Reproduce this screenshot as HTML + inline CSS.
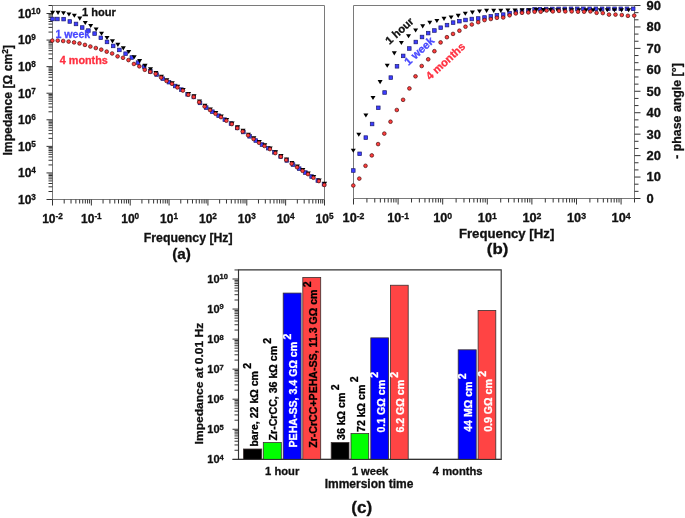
<!DOCTYPE html>
<html><head><meta charset="utf-8"><style>
html,body{margin:0;padding:0;background:#fff;}
svg{display:block;will-change:transform;filter:blur(0.3px);}
</style></head><body>
<svg width="685" height="518" viewBox="0 0 685 518">
<rect width="685" height="518" fill="#fff"/>
<path d="M52.5 5.5H324.5V199.5H52.5Z" fill="none" stroke="#7a7a7a" stroke-width="1"/>
<line x1="52.50" y1="199.50" x2="52.50" y2="205.50" stroke="#333" stroke-width="1"/>
<line x1="64.20" y1="199.50" x2="64.20" y2="203.50" stroke="#333" stroke-width="1"/>
<line x1="71.04" y1="199.50" x2="71.04" y2="203.50" stroke="#333" stroke-width="1"/>
<line x1="75.89" y1="199.50" x2="75.89" y2="203.50" stroke="#333" stroke-width="1"/>
<line x1="79.66" y1="199.50" x2="79.66" y2="203.50" stroke="#333" stroke-width="1"/>
<line x1="82.74" y1="199.50" x2="82.74" y2="203.50" stroke="#333" stroke-width="1"/>
<line x1="85.34" y1="199.50" x2="85.34" y2="203.50" stroke="#333" stroke-width="1"/>
<line x1="87.59" y1="199.50" x2="87.59" y2="203.50" stroke="#333" stroke-width="1"/>
<line x1="89.58" y1="199.50" x2="89.58" y2="203.50" stroke="#333" stroke-width="1"/>
<line x1="91.36" y1="199.50" x2="91.36" y2="205.50" stroke="#333" stroke-width="1"/>
<line x1="103.05" y1="199.50" x2="103.05" y2="203.50" stroke="#333" stroke-width="1"/>
<line x1="109.90" y1="199.50" x2="109.90" y2="203.50" stroke="#333" stroke-width="1"/>
<line x1="114.75" y1="199.50" x2="114.75" y2="203.50" stroke="#333" stroke-width="1"/>
<line x1="118.52" y1="199.50" x2="118.52" y2="203.50" stroke="#333" stroke-width="1"/>
<line x1="121.59" y1="199.50" x2="121.59" y2="203.50" stroke="#333" stroke-width="1"/>
<line x1="124.20" y1="199.50" x2="124.20" y2="203.50" stroke="#333" stroke-width="1"/>
<line x1="126.45" y1="199.50" x2="126.45" y2="203.50" stroke="#333" stroke-width="1"/>
<line x1="128.44" y1="199.50" x2="128.44" y2="203.50" stroke="#333" stroke-width="1"/>
<line x1="130.21" y1="199.50" x2="130.21" y2="205.50" stroke="#333" stroke-width="1"/>
<line x1="141.91" y1="199.50" x2="141.91" y2="203.50" stroke="#333" stroke-width="1"/>
<line x1="148.75" y1="199.50" x2="148.75" y2="203.50" stroke="#333" stroke-width="1"/>
<line x1="153.61" y1="199.50" x2="153.61" y2="203.50" stroke="#333" stroke-width="1"/>
<line x1="157.37" y1="199.50" x2="157.37" y2="203.50" stroke="#333" stroke-width="1"/>
<line x1="160.45" y1="199.50" x2="160.45" y2="203.50" stroke="#333" stroke-width="1"/>
<line x1="163.05" y1="199.50" x2="163.05" y2="203.50" stroke="#333" stroke-width="1"/>
<line x1="165.31" y1="199.50" x2="165.31" y2="203.50" stroke="#333" stroke-width="1"/>
<line x1="167.29" y1="199.50" x2="167.29" y2="203.50" stroke="#333" stroke-width="1"/>
<line x1="169.07" y1="199.50" x2="169.07" y2="205.50" stroke="#333" stroke-width="1"/>
<line x1="180.77" y1="199.50" x2="180.77" y2="203.50" stroke="#333" stroke-width="1"/>
<line x1="187.61" y1="199.50" x2="187.61" y2="203.50" stroke="#333" stroke-width="1"/>
<line x1="192.47" y1="199.50" x2="192.47" y2="203.50" stroke="#333" stroke-width="1"/>
<line x1="196.23" y1="199.50" x2="196.23" y2="203.50" stroke="#333" stroke-width="1"/>
<line x1="199.31" y1="199.50" x2="199.31" y2="203.50" stroke="#333" stroke-width="1"/>
<line x1="201.91" y1="199.50" x2="201.91" y2="203.50" stroke="#333" stroke-width="1"/>
<line x1="204.16" y1="199.50" x2="204.16" y2="203.50" stroke="#333" stroke-width="1"/>
<line x1="206.15" y1="199.50" x2="206.15" y2="203.50" stroke="#333" stroke-width="1"/>
<line x1="207.93" y1="199.50" x2="207.93" y2="205.50" stroke="#333" stroke-width="1"/>
<line x1="219.63" y1="199.50" x2="219.63" y2="203.50" stroke="#333" stroke-width="1"/>
<line x1="226.47" y1="199.50" x2="226.47" y2="203.50" stroke="#333" stroke-width="1"/>
<line x1="231.32" y1="199.50" x2="231.32" y2="203.50" stroke="#333" stroke-width="1"/>
<line x1="235.09" y1="199.50" x2="235.09" y2="203.50" stroke="#333" stroke-width="1"/>
<line x1="238.17" y1="199.50" x2="238.17" y2="203.50" stroke="#333" stroke-width="1"/>
<line x1="240.77" y1="199.50" x2="240.77" y2="203.50" stroke="#333" stroke-width="1"/>
<line x1="243.02" y1="199.50" x2="243.02" y2="203.50" stroke="#333" stroke-width="1"/>
<line x1="245.01" y1="199.50" x2="245.01" y2="203.50" stroke="#333" stroke-width="1"/>
<line x1="246.79" y1="199.50" x2="246.79" y2="205.50" stroke="#333" stroke-width="1"/>
<line x1="258.48" y1="199.50" x2="258.48" y2="203.50" stroke="#333" stroke-width="1"/>
<line x1="265.33" y1="199.50" x2="265.33" y2="203.50" stroke="#333" stroke-width="1"/>
<line x1="270.18" y1="199.50" x2="270.18" y2="203.50" stroke="#333" stroke-width="1"/>
<line x1="273.95" y1="199.50" x2="273.95" y2="203.50" stroke="#333" stroke-width="1"/>
<line x1="277.02" y1="199.50" x2="277.02" y2="203.50" stroke="#333" stroke-width="1"/>
<line x1="279.62" y1="199.50" x2="279.62" y2="203.50" stroke="#333" stroke-width="1"/>
<line x1="281.88" y1="199.50" x2="281.88" y2="203.50" stroke="#333" stroke-width="1"/>
<line x1="283.86" y1="199.50" x2="283.86" y2="203.50" stroke="#333" stroke-width="1"/>
<line x1="285.64" y1="199.50" x2="285.64" y2="205.50" stroke="#333" stroke-width="1"/>
<line x1="297.34" y1="199.50" x2="297.34" y2="203.50" stroke="#333" stroke-width="1"/>
<line x1="304.18" y1="199.50" x2="304.18" y2="203.50" stroke="#333" stroke-width="1"/>
<line x1="309.04" y1="199.50" x2="309.04" y2="203.50" stroke="#333" stroke-width="1"/>
<line x1="312.80" y1="199.50" x2="312.80" y2="203.50" stroke="#333" stroke-width="1"/>
<line x1="315.88" y1="199.50" x2="315.88" y2="203.50" stroke="#333" stroke-width="1"/>
<line x1="318.48" y1="199.50" x2="318.48" y2="203.50" stroke="#333" stroke-width="1"/>
<line x1="320.73" y1="199.50" x2="320.73" y2="203.50" stroke="#333" stroke-width="1"/>
<line x1="322.72" y1="199.50" x2="322.72" y2="203.50" stroke="#333" stroke-width="1"/>
<line x1="324.50" y1="199.50" x2="324.50" y2="205.50" stroke="#333" stroke-width="1"/>
<line x1="46.50" y1="199.50" x2="52.50" y2="199.50" stroke="#333" stroke-width="1"/>
<line x1="48.50" y1="191.50" x2="52.50" y2="191.50" stroke="#333" stroke-width="1"/>
<line x1="48.50" y1="186.82" x2="52.50" y2="186.82" stroke="#333" stroke-width="1"/>
<line x1="48.50" y1="183.50" x2="52.50" y2="183.50" stroke="#333" stroke-width="1"/>
<line x1="48.50" y1="180.93" x2="52.50" y2="180.93" stroke="#333" stroke-width="1"/>
<line x1="48.50" y1="178.82" x2="52.50" y2="178.82" stroke="#333" stroke-width="1"/>
<line x1="48.50" y1="177.05" x2="52.50" y2="177.05" stroke="#333" stroke-width="1"/>
<line x1="48.50" y1="175.50" x2="52.50" y2="175.50" stroke="#333" stroke-width="1"/>
<line x1="48.50" y1="174.15" x2="52.50" y2="174.15" stroke="#333" stroke-width="1"/>
<line x1="46.50" y1="172.93" x2="52.50" y2="172.93" stroke="#333" stroke-width="1"/>
<line x1="48.50" y1="164.93" x2="52.50" y2="164.93" stroke="#333" stroke-width="1"/>
<line x1="48.50" y1="160.25" x2="52.50" y2="160.25" stroke="#333" stroke-width="1"/>
<line x1="48.50" y1="156.93" x2="52.50" y2="156.93" stroke="#333" stroke-width="1"/>
<line x1="48.50" y1="154.36" x2="52.50" y2="154.36" stroke="#333" stroke-width="1"/>
<line x1="48.50" y1="152.25" x2="52.50" y2="152.25" stroke="#333" stroke-width="1"/>
<line x1="48.50" y1="150.48" x2="52.50" y2="150.48" stroke="#333" stroke-width="1"/>
<line x1="48.50" y1="148.93" x2="52.50" y2="148.93" stroke="#333" stroke-width="1"/>
<line x1="48.50" y1="147.58" x2="52.50" y2="147.58" stroke="#333" stroke-width="1"/>
<line x1="46.50" y1="146.36" x2="52.50" y2="146.36" stroke="#333" stroke-width="1"/>
<line x1="48.50" y1="138.36" x2="52.50" y2="138.36" stroke="#333" stroke-width="1"/>
<line x1="48.50" y1="133.68" x2="52.50" y2="133.68" stroke="#333" stroke-width="1"/>
<line x1="48.50" y1="130.36" x2="52.50" y2="130.36" stroke="#333" stroke-width="1"/>
<line x1="48.50" y1="127.79" x2="52.50" y2="127.79" stroke="#333" stroke-width="1"/>
<line x1="48.50" y1="125.68" x2="52.50" y2="125.68" stroke="#333" stroke-width="1"/>
<line x1="48.50" y1="123.91" x2="52.50" y2="123.91" stroke="#333" stroke-width="1"/>
<line x1="48.50" y1="122.36" x2="52.50" y2="122.36" stroke="#333" stroke-width="1"/>
<line x1="48.50" y1="121.01" x2="52.50" y2="121.01" stroke="#333" stroke-width="1"/>
<line x1="46.50" y1="119.79" x2="52.50" y2="119.79" stroke="#333" stroke-width="1"/>
<line x1="48.50" y1="111.79" x2="52.50" y2="111.79" stroke="#333" stroke-width="1"/>
<line x1="48.50" y1="107.11" x2="52.50" y2="107.11" stroke="#333" stroke-width="1"/>
<line x1="48.50" y1="103.79" x2="52.50" y2="103.79" stroke="#333" stroke-width="1"/>
<line x1="48.50" y1="101.22" x2="52.50" y2="101.22" stroke="#333" stroke-width="1"/>
<line x1="48.50" y1="99.11" x2="52.50" y2="99.11" stroke="#333" stroke-width="1"/>
<line x1="48.50" y1="97.34" x2="52.50" y2="97.34" stroke="#333" stroke-width="1"/>
<line x1="48.50" y1="95.79" x2="52.50" y2="95.79" stroke="#333" stroke-width="1"/>
<line x1="48.50" y1="94.44" x2="52.50" y2="94.44" stroke="#333" stroke-width="1"/>
<line x1="46.50" y1="93.22" x2="52.50" y2="93.22" stroke="#333" stroke-width="1"/>
<line x1="48.50" y1="85.22" x2="52.50" y2="85.22" stroke="#333" stroke-width="1"/>
<line x1="48.50" y1="80.54" x2="52.50" y2="80.54" stroke="#333" stroke-width="1"/>
<line x1="48.50" y1="77.22" x2="52.50" y2="77.22" stroke="#333" stroke-width="1"/>
<line x1="48.50" y1="74.65" x2="52.50" y2="74.65" stroke="#333" stroke-width="1"/>
<line x1="48.50" y1="72.54" x2="52.50" y2="72.54" stroke="#333" stroke-width="1"/>
<line x1="48.50" y1="70.77" x2="52.50" y2="70.77" stroke="#333" stroke-width="1"/>
<line x1="48.50" y1="69.22" x2="52.50" y2="69.22" stroke="#333" stroke-width="1"/>
<line x1="48.50" y1="67.87" x2="52.50" y2="67.87" stroke="#333" stroke-width="1"/>
<line x1="46.50" y1="66.65" x2="52.50" y2="66.65" stroke="#333" stroke-width="1"/>
<line x1="48.50" y1="58.65" x2="52.50" y2="58.65" stroke="#333" stroke-width="1"/>
<line x1="48.50" y1="53.97" x2="52.50" y2="53.97" stroke="#333" stroke-width="1"/>
<line x1="48.50" y1="50.65" x2="52.50" y2="50.65" stroke="#333" stroke-width="1"/>
<line x1="48.50" y1="48.08" x2="52.50" y2="48.08" stroke="#333" stroke-width="1"/>
<line x1="48.50" y1="45.97" x2="52.50" y2="45.97" stroke="#333" stroke-width="1"/>
<line x1="48.50" y1="44.20" x2="52.50" y2="44.20" stroke="#333" stroke-width="1"/>
<line x1="48.50" y1="42.65" x2="52.50" y2="42.65" stroke="#333" stroke-width="1"/>
<line x1="48.50" y1="41.30" x2="52.50" y2="41.30" stroke="#333" stroke-width="1"/>
<line x1="46.50" y1="40.08" x2="52.50" y2="40.08" stroke="#333" stroke-width="1"/>
<line x1="48.50" y1="32.08" x2="52.50" y2="32.08" stroke="#333" stroke-width="1"/>
<line x1="48.50" y1="27.40" x2="52.50" y2="27.40" stroke="#333" stroke-width="1"/>
<line x1="48.50" y1="24.08" x2="52.50" y2="24.08" stroke="#333" stroke-width="1"/>
<line x1="48.50" y1="21.51" x2="52.50" y2="21.51" stroke="#333" stroke-width="1"/>
<line x1="48.50" y1="19.40" x2="52.50" y2="19.40" stroke="#333" stroke-width="1"/>
<line x1="48.50" y1="17.63" x2="52.50" y2="17.63" stroke="#333" stroke-width="1"/>
<line x1="48.50" y1="16.08" x2="52.50" y2="16.08" stroke="#333" stroke-width="1"/>
<line x1="48.50" y1="14.73" x2="52.50" y2="14.73" stroke="#333" stroke-width="1"/>
<line x1="46.50" y1="13.51" x2="52.50" y2="13.51" stroke="#333" stroke-width="1"/>
<line x1="48.50" y1="5.51" x2="52.50" y2="5.51" stroke="#333" stroke-width="1"/>
<text x="52.50" y="222.80" font-family="'Liberation Sans', sans-serif" font-weight="bold" font-size="12" fill="#111" text-anchor="middle" stroke="#111" stroke-width="0.3">10<tspan font-size="8.2" dy="-3.9">-2</tspan></text>
<text x="91.36" y="222.80" font-family="'Liberation Sans', sans-serif" font-weight="bold" font-size="12" fill="#111" text-anchor="middle" stroke="#111" stroke-width="0.3">10<tspan font-size="8.2" dy="-3.9">-1</tspan></text>
<text x="130.21" y="222.80" font-family="'Liberation Sans', sans-serif" font-weight="bold" font-size="12" fill="#111" text-anchor="middle" stroke="#111" stroke-width="0.3">10<tspan font-size="8.2" dy="-3.9">0</tspan></text>
<text x="169.07" y="222.80" font-family="'Liberation Sans', sans-serif" font-weight="bold" font-size="12" fill="#111" text-anchor="middle" stroke="#111" stroke-width="0.3">10<tspan font-size="8.2" dy="-3.9">1</tspan></text>
<text x="207.93" y="222.80" font-family="'Liberation Sans', sans-serif" font-weight="bold" font-size="12" fill="#111" text-anchor="middle" stroke="#111" stroke-width="0.3">10<tspan font-size="8.2" dy="-3.9">2</tspan></text>
<text x="246.79" y="222.80" font-family="'Liberation Sans', sans-serif" font-weight="bold" font-size="12" fill="#111" text-anchor="middle" stroke="#111" stroke-width="0.3">10<tspan font-size="8.2" dy="-3.9">3</tspan></text>
<text x="285.64" y="222.80" font-family="'Liberation Sans', sans-serif" font-weight="bold" font-size="12" fill="#111" text-anchor="middle" stroke="#111" stroke-width="0.3">10<tspan font-size="8.2" dy="-3.9">4</tspan></text>
<text x="324.50" y="222.80" font-family="'Liberation Sans', sans-serif" font-weight="bold" font-size="12" fill="#111" text-anchor="middle" stroke="#111" stroke-width="0.3">10<tspan font-size="8.2" dy="-3.9">5</tspan></text>
<text x="18.00" y="203.80" font-family="'Liberation Sans', sans-serif" font-weight="bold" font-size="12" fill="#111" text-anchor="start" stroke="#111" stroke-width="0.3">10<tspan font-size="8.2" dy="-3.9">3</tspan></text>
<text x="18.00" y="177.23" font-family="'Liberation Sans', sans-serif" font-weight="bold" font-size="12" fill="#111" text-anchor="start" stroke="#111" stroke-width="0.3">10<tspan font-size="8.2" dy="-3.9">4</tspan></text>
<text x="18.00" y="150.66" font-family="'Liberation Sans', sans-serif" font-weight="bold" font-size="12" fill="#111" text-anchor="start" stroke="#111" stroke-width="0.3">10<tspan font-size="8.2" dy="-3.9">5</tspan></text>
<text x="18.00" y="124.09" font-family="'Liberation Sans', sans-serif" font-weight="bold" font-size="12" fill="#111" text-anchor="start" stroke="#111" stroke-width="0.3">10<tspan font-size="8.2" dy="-3.9">6</tspan></text>
<text x="18.00" y="97.52" font-family="'Liberation Sans', sans-serif" font-weight="bold" font-size="12" fill="#111" text-anchor="start" stroke="#111" stroke-width="0.3">10<tspan font-size="8.2" dy="-3.9">7</tspan></text>
<text x="18.00" y="70.95" font-family="'Liberation Sans', sans-serif" font-weight="bold" font-size="12" fill="#111" text-anchor="start" stroke="#111" stroke-width="0.3">10<tspan font-size="8.2" dy="-3.9">8</tspan></text>
<text x="18.00" y="44.38" font-family="'Liberation Sans', sans-serif" font-weight="bold" font-size="12" fill="#111" text-anchor="start" stroke="#111" stroke-width="0.3">10<tspan font-size="8.2" dy="-3.9">9</tspan></text>
<text x="18.00" y="17.81" font-family="'Liberation Sans', sans-serif" font-weight="bold" font-size="12" fill="#111" text-anchor="start" stroke="#111" stroke-width="0.3">10<tspan font-size="8.2" dy="-3.9">10</tspan></text>
<path d="M353.5 5.5H634.5V198.5H353.5Z" fill="none" stroke="#7a7a7a" stroke-width="1"/>
<line x1="353.50" y1="198.50" x2="353.50" y2="204.50" stroke="#333" stroke-width="1"/>
<line x1="366.92" y1="198.50" x2="366.92" y2="202.50" stroke="#333" stroke-width="1"/>
<line x1="374.78" y1="198.50" x2="374.78" y2="202.50" stroke="#333" stroke-width="1"/>
<line x1="380.35" y1="198.50" x2="380.35" y2="202.50" stroke="#333" stroke-width="1"/>
<line x1="384.67" y1="198.50" x2="384.67" y2="202.50" stroke="#333" stroke-width="1"/>
<line x1="388.20" y1="198.50" x2="388.20" y2="202.50" stroke="#333" stroke-width="1"/>
<line x1="391.19" y1="198.50" x2="391.19" y2="202.50" stroke="#333" stroke-width="1"/>
<line x1="393.77" y1="198.50" x2="393.77" y2="202.50" stroke="#333" stroke-width="1"/>
<line x1="396.06" y1="198.50" x2="396.06" y2="202.50" stroke="#333" stroke-width="1"/>
<line x1="398.10" y1="198.50" x2="398.10" y2="204.50" stroke="#333" stroke-width="1"/>
<line x1="411.52" y1="198.50" x2="411.52" y2="202.50" stroke="#333" stroke-width="1"/>
<line x1="419.37" y1="198.50" x2="419.37" y2="202.50" stroke="#333" stroke-width="1"/>
<line x1="424.95" y1="198.50" x2="424.95" y2="202.50" stroke="#333" stroke-width="1"/>
<line x1="429.27" y1="198.50" x2="429.27" y2="202.50" stroke="#333" stroke-width="1"/>
<line x1="432.80" y1="198.50" x2="432.80" y2="202.50" stroke="#333" stroke-width="1"/>
<line x1="435.78" y1="198.50" x2="435.78" y2="202.50" stroke="#333" stroke-width="1"/>
<line x1="438.37" y1="198.50" x2="438.37" y2="202.50" stroke="#333" stroke-width="1"/>
<line x1="440.65" y1="198.50" x2="440.65" y2="202.50" stroke="#333" stroke-width="1"/>
<line x1="442.69" y1="198.50" x2="442.69" y2="204.50" stroke="#333" stroke-width="1"/>
<line x1="456.12" y1="198.50" x2="456.12" y2="202.50" stroke="#333" stroke-width="1"/>
<line x1="463.97" y1="198.50" x2="463.97" y2="202.50" stroke="#333" stroke-width="1"/>
<line x1="469.54" y1="198.50" x2="469.54" y2="202.50" stroke="#333" stroke-width="1"/>
<line x1="473.86" y1="198.50" x2="473.86" y2="202.50" stroke="#333" stroke-width="1"/>
<line x1="477.39" y1="198.50" x2="477.39" y2="202.50" stroke="#333" stroke-width="1"/>
<line x1="480.38" y1="198.50" x2="480.38" y2="202.50" stroke="#333" stroke-width="1"/>
<line x1="482.97" y1="198.50" x2="482.97" y2="202.50" stroke="#333" stroke-width="1"/>
<line x1="485.25" y1="198.50" x2="485.25" y2="202.50" stroke="#333" stroke-width="1"/>
<line x1="487.29" y1="198.50" x2="487.29" y2="204.50" stroke="#333" stroke-width="1"/>
<line x1="500.71" y1="198.50" x2="500.71" y2="202.50" stroke="#333" stroke-width="1"/>
<line x1="508.57" y1="198.50" x2="508.57" y2="202.50" stroke="#333" stroke-width="1"/>
<line x1="514.14" y1="198.50" x2="514.14" y2="202.50" stroke="#333" stroke-width="1"/>
<line x1="518.46" y1="198.50" x2="518.46" y2="202.50" stroke="#333" stroke-width="1"/>
<line x1="521.99" y1="198.50" x2="521.99" y2="202.50" stroke="#333" stroke-width="1"/>
<line x1="524.98" y1="198.50" x2="524.98" y2="202.50" stroke="#333" stroke-width="1"/>
<line x1="527.56" y1="198.50" x2="527.56" y2="202.50" stroke="#333" stroke-width="1"/>
<line x1="529.84" y1="198.50" x2="529.84" y2="202.50" stroke="#333" stroke-width="1"/>
<line x1="531.88" y1="198.50" x2="531.88" y2="204.50" stroke="#333" stroke-width="1"/>
<line x1="545.31" y1="198.50" x2="545.31" y2="202.50" stroke="#333" stroke-width="1"/>
<line x1="553.16" y1="198.50" x2="553.16" y2="202.50" stroke="#333" stroke-width="1"/>
<line x1="558.73" y1="198.50" x2="558.73" y2="202.50" stroke="#333" stroke-width="1"/>
<line x1="563.05" y1="198.50" x2="563.05" y2="202.50" stroke="#333" stroke-width="1"/>
<line x1="566.59" y1="198.50" x2="566.59" y2="202.50" stroke="#333" stroke-width="1"/>
<line x1="569.57" y1="198.50" x2="569.57" y2="202.50" stroke="#333" stroke-width="1"/>
<line x1="572.16" y1="198.50" x2="572.16" y2="202.50" stroke="#333" stroke-width="1"/>
<line x1="574.44" y1="198.50" x2="574.44" y2="202.50" stroke="#333" stroke-width="1"/>
<line x1="576.48" y1="198.50" x2="576.48" y2="204.50" stroke="#333" stroke-width="1"/>
<line x1="589.90" y1="198.50" x2="589.90" y2="202.50" stroke="#333" stroke-width="1"/>
<line x1="597.76" y1="198.50" x2="597.76" y2="202.50" stroke="#333" stroke-width="1"/>
<line x1="603.33" y1="198.50" x2="603.33" y2="202.50" stroke="#333" stroke-width="1"/>
<line x1="607.65" y1="198.50" x2="607.65" y2="202.50" stroke="#333" stroke-width="1"/>
<line x1="611.18" y1="198.50" x2="611.18" y2="202.50" stroke="#333" stroke-width="1"/>
<line x1="614.17" y1="198.50" x2="614.17" y2="202.50" stroke="#333" stroke-width="1"/>
<line x1="616.75" y1="198.50" x2="616.75" y2="202.50" stroke="#333" stroke-width="1"/>
<line x1="619.03" y1="198.50" x2="619.03" y2="202.50" stroke="#333" stroke-width="1"/>
<line x1="621.08" y1="198.50" x2="621.08" y2="204.50" stroke="#333" stroke-width="1"/>
<line x1="634.50" y1="198.50" x2="634.50" y2="202.50" stroke="#333" stroke-width="1"/>
<line x1="634.50" y1="198.50" x2="640.50" y2="198.50" stroke="#333" stroke-width="1"/>
<line x1="634.50" y1="191.35" x2="638.50" y2="191.35" stroke="#333" stroke-width="1"/>
<line x1="634.50" y1="184.20" x2="638.50" y2="184.20" stroke="#333" stroke-width="1"/>
<line x1="634.50" y1="177.06" x2="640.50" y2="177.06" stroke="#333" stroke-width="1"/>
<line x1="634.50" y1="169.91" x2="638.50" y2="169.91" stroke="#333" stroke-width="1"/>
<line x1="634.50" y1="162.76" x2="638.50" y2="162.76" stroke="#333" stroke-width="1"/>
<line x1="634.50" y1="155.61" x2="640.50" y2="155.61" stroke="#333" stroke-width="1"/>
<line x1="634.50" y1="148.46" x2="638.50" y2="148.46" stroke="#333" stroke-width="1"/>
<line x1="634.50" y1="141.31" x2="638.50" y2="141.31" stroke="#333" stroke-width="1"/>
<line x1="634.50" y1="134.17" x2="640.50" y2="134.17" stroke="#333" stroke-width="1"/>
<line x1="634.50" y1="127.02" x2="638.50" y2="127.02" stroke="#333" stroke-width="1"/>
<line x1="634.50" y1="119.87" x2="638.50" y2="119.87" stroke="#333" stroke-width="1"/>
<line x1="634.50" y1="112.72" x2="640.50" y2="112.72" stroke="#333" stroke-width="1"/>
<line x1="634.50" y1="105.57" x2="638.50" y2="105.57" stroke="#333" stroke-width="1"/>
<line x1="634.50" y1="98.43" x2="638.50" y2="98.43" stroke="#333" stroke-width="1"/>
<line x1="634.50" y1="91.28" x2="640.50" y2="91.28" stroke="#333" stroke-width="1"/>
<line x1="634.50" y1="84.13" x2="638.50" y2="84.13" stroke="#333" stroke-width="1"/>
<line x1="634.50" y1="76.98" x2="638.50" y2="76.98" stroke="#333" stroke-width="1"/>
<line x1="634.50" y1="69.83" x2="640.50" y2="69.83" stroke="#333" stroke-width="1"/>
<line x1="634.50" y1="62.69" x2="638.50" y2="62.69" stroke="#333" stroke-width="1"/>
<line x1="634.50" y1="55.54" x2="638.50" y2="55.54" stroke="#333" stroke-width="1"/>
<line x1="634.50" y1="48.39" x2="640.50" y2="48.39" stroke="#333" stroke-width="1"/>
<line x1="634.50" y1="41.24" x2="638.50" y2="41.24" stroke="#333" stroke-width="1"/>
<line x1="634.50" y1="34.09" x2="638.50" y2="34.09" stroke="#333" stroke-width="1"/>
<line x1="634.50" y1="26.94" x2="640.50" y2="26.94" stroke="#333" stroke-width="1"/>
<line x1="634.50" y1="19.80" x2="638.50" y2="19.80" stroke="#333" stroke-width="1"/>
<line x1="634.50" y1="12.65" x2="638.50" y2="12.65" stroke="#333" stroke-width="1"/>
<line x1="634.50" y1="5.50" x2="640.50" y2="5.50" stroke="#333" stroke-width="1"/>
<g transform="translate(353.50,0) scale(1.06,1)">
<text x="0.00" y="222.50" font-family="'Liberation Sans', sans-serif" font-weight="bold" font-size="12" fill="#111" text-anchor="middle" stroke="#111" stroke-width="0.3">10<tspan font-size="8.2" dy="-3.9">-2</tspan></text>
</g>
<g transform="translate(398.10,0) scale(1.06,1)">
<text x="0.00" y="222.50" font-family="'Liberation Sans', sans-serif" font-weight="bold" font-size="12" fill="#111" text-anchor="middle" stroke="#111" stroke-width="0.3">10<tspan font-size="8.2" dy="-3.9">-1</tspan></text>
</g>
<g transform="translate(442.69,0) scale(1.06,1)">
<text x="0.00" y="222.50" font-family="'Liberation Sans', sans-serif" font-weight="bold" font-size="12" fill="#111" text-anchor="middle" stroke="#111" stroke-width="0.3">10<tspan font-size="8.2" dy="-3.9">0</tspan></text>
</g>
<g transform="translate(487.29,0) scale(1.06,1)">
<text x="0.00" y="222.50" font-family="'Liberation Sans', sans-serif" font-weight="bold" font-size="12" fill="#111" text-anchor="middle" stroke="#111" stroke-width="0.3">10<tspan font-size="8.2" dy="-3.9">1</tspan></text>
</g>
<g transform="translate(531.88,0) scale(1.06,1)">
<text x="0.00" y="222.50" font-family="'Liberation Sans', sans-serif" font-weight="bold" font-size="12" fill="#111" text-anchor="middle" stroke="#111" stroke-width="0.3">10<tspan font-size="8.2" dy="-3.9">2</tspan></text>
</g>
<g transform="translate(576.48,0) scale(1.06,1)">
<text x="0.00" y="222.50" font-family="'Liberation Sans', sans-serif" font-weight="bold" font-size="12" fill="#111" text-anchor="middle" stroke="#111" stroke-width="0.3">10<tspan font-size="8.2" dy="-3.9">3</tspan></text>
</g>
<g transform="translate(621.08,0) scale(1.06,1)">
<text x="0.00" y="222.50" font-family="'Liberation Sans', sans-serif" font-weight="bold" font-size="12" fill="#111" text-anchor="middle" stroke="#111" stroke-width="0.3">10<tspan font-size="8.2" dy="-3.9">4</tspan></text>
</g>
<text transform="translate(646.6,202.90) scale(1.08,1)" font-family="'Liberation Sans', sans-serif" font-weight="bold" font-size="12" fill="#111" stroke="#111" stroke-width="0.3">0</text>
<text transform="translate(646.6,181.46) scale(1.08,1)" font-family="'Liberation Sans', sans-serif" font-weight="bold" font-size="12" fill="#111" stroke="#111" stroke-width="0.3">10</text>
<text transform="translate(646.6,160.01) scale(1.08,1)" font-family="'Liberation Sans', sans-serif" font-weight="bold" font-size="12" fill="#111" stroke="#111" stroke-width="0.3">20</text>
<text transform="translate(646.6,138.57) scale(1.08,1)" font-family="'Liberation Sans', sans-serif" font-weight="bold" font-size="12" fill="#111" stroke="#111" stroke-width="0.3">30</text>
<text transform="translate(646.6,117.12) scale(1.08,1)" font-family="'Liberation Sans', sans-serif" font-weight="bold" font-size="12" fill="#111" stroke="#111" stroke-width="0.3">40</text>
<text transform="translate(646.6,95.68) scale(1.08,1)" font-family="'Liberation Sans', sans-serif" font-weight="bold" font-size="12" fill="#111" stroke="#111" stroke-width="0.3">50</text>
<text transform="translate(646.6,74.23) scale(1.08,1)" font-family="'Liberation Sans', sans-serif" font-weight="bold" font-size="12" fill="#111" stroke="#111" stroke-width="0.3">60</text>
<text transform="translate(646.6,52.79) scale(1.08,1)" font-family="'Liberation Sans', sans-serif" font-weight="bold" font-size="12" fill="#111" stroke="#111" stroke-width="0.3">70</text>
<text transform="translate(646.6,31.34) scale(1.08,1)" font-family="'Liberation Sans', sans-serif" font-weight="bold" font-size="12" fill="#111" stroke="#111" stroke-width="0.3">80</text>
<text transform="translate(646.6,9.90) scale(1.08,1)" font-family="'Liberation Sans', sans-serif" font-weight="bold" font-size="12" fill="#111" stroke="#111" stroke-width="0.3">90</text>
<rect x="50.70" y="17.20" width="3.6" height="3.6" fill="#3c3cff" stroke="#1c1c70" stroke-width="0.7"/>
<rect x="55.60" y="17.20" width="3.6" height="3.6" fill="#3c3cff" stroke="#1c1c70" stroke-width="0.7"/>
<rect x="61.80" y="17.31" width="3.6" height="3.6" fill="#3c3cff" stroke="#1c1c70" stroke-width="0.7"/>
<rect x="68.00" y="19.68" width="3.6" height="3.6" fill="#3c3cff" stroke="#1c1c70" stroke-width="0.7"/>
<rect x="74.20" y="22.15" width="3.6" height="3.6" fill="#3c3cff" stroke="#1c1c70" stroke-width="0.7"/>
<rect x="80.40" y="25.71" width="3.6" height="3.6" fill="#3c3cff" stroke="#1c1c70" stroke-width="0.7"/>
<rect x="86.60" y="28.79" width="3.6" height="3.6" fill="#3c3cff" stroke="#1c1c70" stroke-width="0.7"/>
<rect x="92.80" y="31.77" width="3.6" height="3.6" fill="#3c3cff" stroke="#1c1c70" stroke-width="0.7"/>
<rect x="99.00" y="36.03" width="3.6" height="3.6" fill="#3c3cff" stroke="#1c1c70" stroke-width="0.7"/>
<rect x="105.20" y="40.13" width="3.6" height="3.6" fill="#3c3cff" stroke="#1c1c70" stroke-width="0.7"/>
<rect x="111.40" y="44.13" width="3.6" height="3.6" fill="#3c3cff" stroke="#1c1c70" stroke-width="0.7"/>
<rect x="117.60" y="48.13" width="3.6" height="3.6" fill="#3c3cff" stroke="#1c1c70" stroke-width="0.7"/>
<rect x="123.80" y="51.90" width="3.6" height="3.6" fill="#3c3cff" stroke="#1c1c70" stroke-width="0.7"/>
<rect x="130.00" y="55.71" width="3.6" height="3.6" fill="#3c3cff" stroke="#1c1c70" stroke-width="0.7"/>
<rect x="136.20" y="60.79" width="3.6" height="3.6" fill="#3c3cff" stroke="#1c1c70" stroke-width="0.7"/>
<rect x="142.40" y="64.85" width="3.6" height="3.6" fill="#3c3cff" stroke="#1c1c70" stroke-width="0.7"/>
<rect x="148.60" y="69.63" width="3.6" height="3.6" fill="#3c3cff" stroke="#1c1c70" stroke-width="0.7"/>
<rect x="154.80" y="72.73" width="3.6" height="3.6" fill="#3c3cff" stroke="#1c1c70" stroke-width="0.7"/>
<rect x="161.00" y="76.84" width="3.6" height="3.6" fill="#3c3cff" stroke="#1c1c70" stroke-width="0.7"/>
<rect x="167.20" y="80.37" width="3.6" height="3.6" fill="#3c3cff" stroke="#1c1c70" stroke-width="0.7"/>
<rect x="173.40" y="84.22" width="3.6" height="3.6" fill="#3c3cff" stroke="#1c1c70" stroke-width="0.7"/>
<rect x="179.60" y="87.80" width="3.6" height="3.6" fill="#3c3cff" stroke="#1c1c70" stroke-width="0.7"/>
<rect x="185.80" y="92.52" width="3.6" height="3.6" fill="#3c3cff" stroke="#1c1c70" stroke-width="0.7"/>
<rect x="192.00" y="95.17" width="3.6" height="3.6" fill="#3c3cff" stroke="#1c1c70" stroke-width="0.7"/>
<rect x="198.20" y="101.10" width="3.6" height="3.6" fill="#3c3cff" stroke="#1c1c70" stroke-width="0.7"/>
<rect x="204.40" y="105.78" width="3.6" height="3.6" fill="#3c3cff" stroke="#1c1c70" stroke-width="0.7"/>
<rect x="210.60" y="109.86" width="3.6" height="3.6" fill="#3c3cff" stroke="#1c1c70" stroke-width="0.7"/>
<rect x="216.80" y="113.90" width="3.6" height="3.6" fill="#3c3cff" stroke="#1c1c70" stroke-width="0.7"/>
<rect x="223.00" y="117.83" width="3.6" height="3.6" fill="#3c3cff" stroke="#1c1c70" stroke-width="0.7"/>
<rect x="229.20" y="121.76" width="3.6" height="3.6" fill="#3c3cff" stroke="#1c1c70" stroke-width="0.7"/>
<rect x="235.40" y="126.14" width="3.6" height="3.6" fill="#3c3cff" stroke="#1c1c70" stroke-width="0.7"/>
<rect x="241.60" y="130.20" width="3.6" height="3.6" fill="#3c3cff" stroke="#1c1c70" stroke-width="0.7"/>
<rect x="247.80" y="134.52" width="3.6" height="3.6" fill="#3c3cff" stroke="#1c1c70" stroke-width="0.7"/>
<rect x="254.00" y="138.72" width="3.6" height="3.6" fill="#3c3cff" stroke="#1c1c70" stroke-width="0.7"/>
<rect x="260.20" y="142.75" width="3.6" height="3.6" fill="#3c3cff" stroke="#1c1c70" stroke-width="0.7"/>
<rect x="266.40" y="146.38" width="3.6" height="3.6" fill="#3c3cff" stroke="#1c1c70" stroke-width="0.7"/>
<rect x="272.60" y="150.48" width="3.6" height="3.6" fill="#3c3cff" stroke="#1c1c70" stroke-width="0.7"/>
<rect x="278.80" y="154.73" width="3.6" height="3.6" fill="#3c3cff" stroke="#1c1c70" stroke-width="0.7"/>
<rect x="285.00" y="158.64" width="3.6" height="3.6" fill="#3c3cff" stroke="#1c1c70" stroke-width="0.7"/>
<rect x="291.20" y="162.75" width="3.6" height="3.6" fill="#3c3cff" stroke="#1c1c70" stroke-width="0.7"/>
<rect x="297.40" y="166.84" width="3.6" height="3.6" fill="#3c3cff" stroke="#1c1c70" stroke-width="0.7"/>
<rect x="303.60" y="170.74" width="3.6" height="3.6" fill="#3c3cff" stroke="#1c1c70" stroke-width="0.7"/>
<rect x="309.80" y="174.72" width="3.6" height="3.6" fill="#3c3cff" stroke="#1c1c70" stroke-width="0.7"/>
<rect x="316.00" y="178.69" width="3.6" height="3.6" fill="#3c3cff" stroke="#1c1c70" stroke-width="0.7"/>
<rect x="322.20" y="182.42" width="3.6" height="3.6" fill="#3c3cff" stroke="#1c1c70" stroke-width="0.7"/>
<path d="M50.10 10.85H55.10L52.60 14.95Z" fill="#000"/>
<path d="M55.54 10.85H60.54L58.04 14.95Z" fill="#000"/>
<path d="M60.98 11.25H65.98L63.48 15.35Z" fill="#000"/>
<path d="M66.42 12.43H71.42L68.92 16.53Z" fill="#000"/>
<path d="M71.86 13.74H76.86L74.36 17.84Z" fill="#000"/>
<path d="M77.30 16.59H82.30L79.80 20.69Z" fill="#000"/>
<path d="M82.74 21.01H87.74L85.24 25.11Z" fill="#000"/>
<path d="M88.18 23.94H93.18L90.68 28.04Z" fill="#000"/>
<path d="M93.62 27.39H98.62L96.12 31.49Z" fill="#000"/>
<path d="M99.06 31.74H104.06L101.56 35.84Z" fill="#000"/>
<path d="M104.50 36.02H109.50L107.00 40.12Z" fill="#000"/>
<path d="M109.94 39.35H114.94L112.44 43.45Z" fill="#000"/>
<path d="M115.38 42.84H120.38L117.88 46.94Z" fill="#000"/>
<path d="M120.82 46.30H125.82L123.32 50.40Z" fill="#000"/>
<path d="M126.26 50.02H131.26L128.76 54.12Z" fill="#000"/>
<path d="M131.70 55.18H136.70L134.20 59.28Z" fill="#000"/>
<path d="M137.14 59.08H142.14L139.64 63.18Z" fill="#000"/>
<path d="M142.58 63.66H147.58L145.08 67.76Z" fill="#000"/>
<path d="M148.02 67.33H153.02L150.52 71.43Z" fill="#000"/>
<path d="M153.46 70.99H158.46L155.96 75.09Z" fill="#000"/>
<path d="M158.90 74.83H163.90L161.40 78.93Z" fill="#000"/>
<path d="M164.34 78.17H169.34L166.84 82.27Z" fill="#000"/>
<path d="M169.78 81.30H174.78L172.28 85.40Z" fill="#000"/>
<path d="M175.22 84.65H180.22L177.72 88.75Z" fill="#000"/>
<path d="M180.66 87.98H185.66L183.16 92.08Z" fill="#000"/>
<path d="M186.10 92.01H191.10L188.60 96.11Z" fill="#000"/>
<path d="M191.54 94.26H196.54L194.04 98.36Z" fill="#000"/>
<path d="M196.98 99.58H201.98L199.48 103.68Z" fill="#000"/>
<path d="M202.42 103.82H207.42L204.92 107.92Z" fill="#000"/>
<path d="M207.86 107.48H212.86L210.36 111.58Z" fill="#000"/>
<path d="M213.30 111.04H218.30L215.80 115.14Z" fill="#000"/>
<path d="M218.74 114.54H223.74L221.24 118.64Z" fill="#000"/>
<path d="M224.18 117.94H229.18L226.68 122.04Z" fill="#000"/>
<path d="M229.62 121.51H234.62L232.12 125.61Z" fill="#000"/>
<path d="M235.06 125.33H240.06L237.56 129.43Z" fill="#000"/>
<path d="M240.50 128.87H245.50L243.00 132.97Z" fill="#000"/>
<path d="M245.94 132.68H250.94L248.44 136.78Z" fill="#000"/>
<path d="M251.38 136.35H256.38L253.88 140.45Z" fill="#000"/>
<path d="M256.82 140.07H261.82L259.32 144.17Z" fill="#000"/>
<path d="M262.26 143.27H267.26L264.76 147.37Z" fill="#000"/>
<path d="M267.70 146.57H272.70L270.20 150.67Z" fill="#000"/>
<path d="M273.14 150.35H278.14L275.64 154.45Z" fill="#000"/>
<path d="M278.58 153.97H283.58L281.08 158.07Z" fill="#000"/>
<path d="M284.02 157.41H289.02L286.52 161.51Z" fill="#000"/>
<path d="M289.46 161.00H294.46L291.96 165.10Z" fill="#000"/>
<path d="M294.90 164.62H299.90L297.40 168.72Z" fill="#000"/>
<path d="M300.34 168.12H305.34L302.84 172.22Z" fill="#000"/>
<path d="M305.78 171.49H310.78L308.28 175.59Z" fill="#000"/>
<path d="M311.22 175.07H316.22L313.72 179.17Z" fill="#000"/>
<path d="M316.66 178.48H321.66L319.16 182.58Z" fill="#000"/>
<path d="M322.10 181.72H327.10L324.60 185.82Z" fill="#000"/>
<circle cx="52.30" cy="40.60" r="1.85" fill="#ff3d3d" stroke="#4a1010" stroke-width="0.7"/>
<circle cx="57.74" cy="40.60" r="1.85" fill="#ff3d3d" stroke="#4a1010" stroke-width="0.7"/>
<circle cx="63.18" cy="41.00" r="1.85" fill="#ff3d3d" stroke="#4a1010" stroke-width="0.7"/>
<circle cx="68.62" cy="41.59" r="1.85" fill="#ff3d3d" stroke="#4a1010" stroke-width="0.7"/>
<circle cx="74.06" cy="42.38" r="1.85" fill="#ff3d3d" stroke="#4a1010" stroke-width="0.7"/>
<circle cx="79.50" cy="43.43" r="1.85" fill="#ff3d3d" stroke="#4a1010" stroke-width="0.7"/>
<circle cx="84.94" cy="44.88" r="1.85" fill="#ff3d3d" stroke="#4a1010" stroke-width="0.7"/>
<circle cx="90.38" cy="46.52" r="1.85" fill="#ff3d3d" stroke="#4a1010" stroke-width="0.7"/>
<circle cx="95.82" cy="48.01" r="1.85" fill="#ff3d3d" stroke="#4a1010" stroke-width="0.7"/>
<circle cx="101.26" cy="49.62" r="1.85" fill="#ff3d3d" stroke="#4a1010" stroke-width="0.7"/>
<circle cx="106.70" cy="51.63" r="1.85" fill="#ff3d3d" stroke="#4a1010" stroke-width="0.7"/>
<circle cx="112.14" cy="53.48" r="1.85" fill="#ff3d3d" stroke="#4a1010" stroke-width="0.7"/>
<circle cx="117.58" cy="56.36" r="1.85" fill="#ff3d3d" stroke="#4a1010" stroke-width="0.7"/>
<circle cx="123.02" cy="57.81" r="1.85" fill="#ff3d3d" stroke="#4a1010" stroke-width="0.7"/>
<circle cx="128.46" cy="60.08" r="1.85" fill="#ff3d3d" stroke="#4a1010" stroke-width="0.7"/>
<circle cx="133.90" cy="63.95" r="1.85" fill="#ff3d3d" stroke="#4a1010" stroke-width="0.7"/>
<circle cx="139.34" cy="66.32" r="1.85" fill="#ff3d3d" stroke="#4a1010" stroke-width="0.7"/>
<circle cx="144.78" cy="69.79" r="1.85" fill="#ff3d3d" stroke="#4a1010" stroke-width="0.7"/>
<circle cx="150.22" cy="71.84" r="1.85" fill="#ff3d3d" stroke="#4a1010" stroke-width="0.7"/>
<circle cx="155.66" cy="73.79" r="1.85" fill="#ff3d3d" stroke="#4a1010" stroke-width="0.7"/>
<circle cx="161.10" cy="77.53" r="1.85" fill="#ff3d3d" stroke="#4a1010" stroke-width="0.7"/>
<circle cx="166.54" cy="80.98" r="1.85" fill="#ff3d3d" stroke="#4a1010" stroke-width="0.7"/>
<circle cx="171.98" cy="83.79" r="1.85" fill="#ff3d3d" stroke="#4a1010" stroke-width="0.7"/>
<circle cx="177.42" cy="87.43" r="1.85" fill="#ff3d3d" stroke="#4a1010" stroke-width="0.7"/>
<circle cx="182.86" cy="90.55" r="1.85" fill="#ff3d3d" stroke="#4a1010" stroke-width="0.7"/>
<circle cx="188.30" cy="94.71" r="1.85" fill="#ff3d3d" stroke="#4a1010" stroke-width="0.7"/>
<circle cx="193.74" cy="96.92" r="1.85" fill="#ff3d3d" stroke="#4a1010" stroke-width="0.7"/>
<circle cx="199.18" cy="102.19" r="1.85" fill="#ff3d3d" stroke="#4a1010" stroke-width="0.7"/>
<circle cx="204.62" cy="106.49" r="1.85" fill="#ff3d3d" stroke="#4a1010" stroke-width="0.7"/>
<circle cx="210.06" cy="110.07" r="1.85" fill="#ff3d3d" stroke="#4a1010" stroke-width="0.7"/>
<circle cx="215.50" cy="113.76" r="1.85" fill="#ff3d3d" stroke="#4a1010" stroke-width="0.7"/>
<circle cx="220.94" cy="117.13" r="1.85" fill="#ff3d3d" stroke="#4a1010" stroke-width="0.7"/>
<circle cx="226.38" cy="120.69" r="1.85" fill="#ff3d3d" stroke="#4a1010" stroke-width="0.7"/>
<circle cx="231.82" cy="124.05" r="1.85" fill="#ff3d3d" stroke="#4a1010" stroke-width="0.7"/>
<circle cx="237.26" cy="128.04" r="1.85" fill="#ff3d3d" stroke="#4a1010" stroke-width="0.7"/>
<circle cx="242.70" cy="131.50" r="1.85" fill="#ff3d3d" stroke="#4a1010" stroke-width="0.7"/>
<circle cx="248.14" cy="135.33" r="1.85" fill="#ff3d3d" stroke="#4a1010" stroke-width="0.7"/>
<circle cx="253.58" cy="138.99" r="1.85" fill="#ff3d3d" stroke="#4a1010" stroke-width="0.7"/>
<circle cx="259.02" cy="142.74" r="1.85" fill="#ff3d3d" stroke="#4a1010" stroke-width="0.7"/>
<circle cx="264.46" cy="145.98" r="1.85" fill="#ff3d3d" stroke="#4a1010" stroke-width="0.7"/>
<circle cx="269.90" cy="149.11" r="1.85" fill="#ff3d3d" stroke="#4a1010" stroke-width="0.7"/>
<circle cx="275.34" cy="153.10" r="1.85" fill="#ff3d3d" stroke="#4a1010" stroke-width="0.7"/>
<circle cx="280.78" cy="156.65" r="1.85" fill="#ff3d3d" stroke="#4a1010" stroke-width="0.7"/>
<circle cx="286.22" cy="160.01" r="1.85" fill="#ff3d3d" stroke="#4a1010" stroke-width="0.7"/>
<circle cx="291.66" cy="163.67" r="1.85" fill="#ff3d3d" stroke="#4a1010" stroke-width="0.7"/>
<circle cx="297.10" cy="167.27" r="1.85" fill="#ff3d3d" stroke="#4a1010" stroke-width="0.7"/>
<circle cx="302.54" cy="170.79" r="1.85" fill="#ff3d3d" stroke="#4a1010" stroke-width="0.7"/>
<circle cx="307.98" cy="174.14" r="1.85" fill="#ff3d3d" stroke="#4a1010" stroke-width="0.7"/>
<circle cx="313.42" cy="177.74" r="1.85" fill="#ff3d3d" stroke="#4a1010" stroke-width="0.7"/>
<circle cx="318.86" cy="181.07" r="1.85" fill="#ff3d3d" stroke="#4a1010" stroke-width="0.7"/>
<circle cx="324.30" cy="184.95" r="1.85" fill="#ff3d3d" stroke="#4a1010" stroke-width="0.7"/>
<rect x="351.50" y="168.70" width="3.6" height="3.6" fill="#3c3cff" stroke="#1c1c70" stroke-width="0.7"/>
<rect x="357.80" y="152.00" width="3.6" height="3.6" fill="#3c3cff" stroke="#1c1c70" stroke-width="0.7"/>
<rect x="364.00" y="135.80" width="3.6" height="3.6" fill="#3c3cff" stroke="#1c1c70" stroke-width="0.7"/>
<rect x="370.30" y="122.20" width="3.6" height="3.6" fill="#3c3cff" stroke="#1c1c70" stroke-width="0.7"/>
<rect x="376.50" y="106.00" width="3.6" height="3.6" fill="#3c3cff" stroke="#1c1c70" stroke-width="0.7"/>
<rect x="382.80" y="90.70" width="3.6" height="3.6" fill="#3c3cff" stroke="#1c1c70" stroke-width="0.7"/>
<rect x="389.00" y="75.80" width="3.6" height="3.6" fill="#3c3cff" stroke="#1c1c70" stroke-width="0.7"/>
<rect x="395.20" y="64.50" width="3.6" height="3.6" fill="#3c3cff" stroke="#1c1c70" stroke-width="0.7"/>
<rect x="401.40" y="54.10" width="3.6" height="3.6" fill="#3c3cff" stroke="#1c1c70" stroke-width="0.7"/>
<rect x="407.50" y="46.70" width="3.6" height="3.6" fill="#3c3cff" stroke="#1c1c70" stroke-width="0.7"/>
<rect x="414.00" y="40.20" width="3.6" height="3.6" fill="#3c3cff" stroke="#1c1c70" stroke-width="0.7"/>
<rect x="420.20" y="35.20" width="3.6" height="3.6" fill="#3c3cff" stroke="#1c1c70" stroke-width="0.7"/>
<rect x="426.40" y="31.30" width="3.6" height="3.6" fill="#3c3cff" stroke="#1c1c70" stroke-width="0.7"/>
<rect x="432.60" y="28.70" width="3.6" height="3.6" fill="#3c3cff" stroke="#1c1c70" stroke-width="0.7"/>
<rect x="438.90" y="25.90" width="3.6" height="3.6" fill="#3c3cff" stroke="#1c1c70" stroke-width="0.7"/>
<rect x="445.20" y="23.30" width="3.6" height="3.6" fill="#3c3cff" stroke="#1c1c70" stroke-width="0.7"/>
<rect x="451.30" y="20.80" width="3.6" height="3.6" fill="#3c3cff" stroke="#1c1c70" stroke-width="0.7"/>
<rect x="457.60" y="19.40" width="3.6" height="3.6" fill="#3c3cff" stroke="#1c1c70" stroke-width="0.7"/>
<rect x="463.70" y="18.20" width="3.6" height="3.6" fill="#3c3cff" stroke="#1c1c70" stroke-width="0.7"/>
<rect x="470.00" y="17.20" width="3.6" height="3.6" fill="#3c3cff" stroke="#1c1c70" stroke-width="0.7"/>
<rect x="476.40" y="16.70" width="3.6" height="3.6" fill="#3c3cff" stroke="#1c1c70" stroke-width="0.7"/>
<rect x="482.70" y="15.70" width="3.6" height="3.6" fill="#3c3cff" stroke="#1c1c70" stroke-width="0.7"/>
<rect x="489.00" y="14.60" width="3.6" height="3.6" fill="#3c3cff" stroke="#1c1c70" stroke-width="0.7"/>
<rect x="495.10" y="13.50" width="3.6" height="3.6" fill="#3c3cff" stroke="#1c1c70" stroke-width="0.7"/>
<rect x="501.40" y="12.80" width="3.6" height="3.6" fill="#3c3cff" stroke="#1c1c70" stroke-width="0.7"/>
<rect x="507.80" y="11.30" width="3.6" height="3.6" fill="#3c3cff" stroke="#1c1c70" stroke-width="0.7"/>
<rect x="514.00" y="9.90" width="3.6" height="3.6" fill="#3c3cff" stroke="#1c1c70" stroke-width="0.7"/>
<rect x="520.20" y="9.10" width="3.6" height="3.6" fill="#3c3cff" stroke="#1c1c70" stroke-width="0.7"/>
<rect x="526.50" y="8.70" width="3.6" height="3.6" fill="#3c3cff" stroke="#1c1c70" stroke-width="0.7"/>
<rect x="532.80" y="7.50" width="3.6" height="3.6" fill="#3c3cff" stroke="#1c1c70" stroke-width="0.7"/>
<rect x="538.10" y="7.37" width="3.6" height="3.6" fill="#3c3cff" stroke="#1c1c70" stroke-width="0.7"/>
<rect x="544.32" y="7.25" width="3.6" height="3.6" fill="#3c3cff" stroke="#1c1c70" stroke-width="0.7"/>
<rect x="550.54" y="7.15" width="3.6" height="3.6" fill="#3c3cff" stroke="#1c1c70" stroke-width="0.7"/>
<rect x="556.76" y="7.09" width="3.6" height="3.6" fill="#3c3cff" stroke="#1c1c70" stroke-width="0.7"/>
<rect x="562.98" y="7.04" width="3.6" height="3.6" fill="#3c3cff" stroke="#1c1c70" stroke-width="0.7"/>
<rect x="569.20" y="7.01" width="3.6" height="3.6" fill="#3c3cff" stroke="#1c1c70" stroke-width="0.7"/>
<rect x="575.42" y="7.00" width="3.6" height="3.6" fill="#3c3cff" stroke="#1c1c70" stroke-width="0.7"/>
<rect x="581.64" y="7.00" width="3.6" height="3.6" fill="#3c3cff" stroke="#1c1c70" stroke-width="0.7"/>
<rect x="587.86" y="7.00" width="3.6" height="3.6" fill="#3c3cff" stroke="#1c1c70" stroke-width="0.7"/>
<rect x="594.08" y="7.00" width="3.6" height="3.6" fill="#3c3cff" stroke="#1c1c70" stroke-width="0.7"/>
<rect x="600.30" y="7.00" width="3.6" height="3.6" fill="#3c3cff" stroke="#1c1c70" stroke-width="0.7"/>
<rect x="606.52" y="7.00" width="3.6" height="3.6" fill="#3c3cff" stroke="#1c1c70" stroke-width="0.7"/>
<rect x="612.74" y="7.00" width="3.6" height="3.6" fill="#3c3cff" stroke="#1c1c70" stroke-width="0.7"/>
<rect x="618.96" y="7.00" width="3.6" height="3.6" fill="#3c3cff" stroke="#1c1c70" stroke-width="0.7"/>
<rect x="625.18" y="7.00" width="3.6" height="3.6" fill="#3c3cff" stroke="#1c1c70" stroke-width="0.7"/>
<rect x="631.40" y="7.00" width="3.6" height="3.6" fill="#3c3cff" stroke="#1c1c70" stroke-width="0.7"/>
<path d="M350.80 148.75H355.80L353.30 152.85Z" fill="#000"/>
<path d="M356.30 132.75H361.30L358.80 136.85Z" fill="#000"/>
<path d="M363.40 113.45H368.40L365.90 117.55Z" fill="#000"/>
<path d="M370.50 95.92H375.50L373.00 100.02Z" fill="#000"/>
<path d="M377.60 80.06H382.60L380.10 84.16Z" fill="#000"/>
<path d="M384.70 63.65H389.70L387.20 67.75Z" fill="#000"/>
<path d="M391.80 51.29H396.80L394.30 55.39Z" fill="#000"/>
<path d="M398.90 40.94H403.90L401.40 45.04Z" fill="#000"/>
<path d="M406.00 34.24H411.00L408.50 38.34Z" fill="#000"/>
<path d="M413.10 28.39H418.10L415.60 32.49Z" fill="#000"/>
<path d="M420.20 24.30H425.20L422.70 28.40Z" fill="#000"/>
<path d="M427.30 20.65H432.30L429.80 24.75Z" fill="#000"/>
<path d="M434.40 18.93H439.40L436.90 23.03Z" fill="#000"/>
<path d="M441.50 16.82H446.50L444.00 20.92Z" fill="#000"/>
<path d="M448.60 15.51H453.60L451.10 19.61Z" fill="#000"/>
<path d="M455.70 13.83H460.70L458.20 17.93Z" fill="#000"/>
<path d="M462.80 11.74H467.80L465.30 15.84Z" fill="#000"/>
<path d="M469.90 10.61H474.90L472.40 14.71Z" fill="#000"/>
<path d="M477.00 9.39H482.00L479.50 13.49Z" fill="#000"/>
<path d="M484.10 8.85H489.10L486.60 12.95Z" fill="#000"/>
<path d="M491.20 8.85H496.20L493.70 12.95Z" fill="#000"/>
<path d="M498.30 8.85H503.30L500.80 12.95Z" fill="#000"/>
<path d="M505.40 8.46H510.40L507.90 12.56Z" fill="#000"/>
<path d="M512.50 8.45H517.50L515.00 12.55Z" fill="#000"/>
<path d="M519.60 8.15H524.60L522.10 12.25Z" fill="#000"/>
<path d="M526.70 8.15H531.70L529.20 12.25Z" fill="#000"/>
<path d="M533.80 8.05H538.80L536.30 12.15Z" fill="#000"/>
<path d="M540.90 8.06H545.90L543.40 12.16Z" fill="#000"/>
<path d="M548.00 8.10H553.00L550.50 12.20Z" fill="#000"/>
<path d="M555.10 8.14H560.10L557.60 12.24Z" fill="#000"/>
<path d="M562.20 8.19H567.20L564.70 12.29Z" fill="#000"/>
<path d="M569.30 8.23H574.30L571.80 12.33Z" fill="#000"/>
<path d="M576.40 8.25H581.40L578.90 12.35Z" fill="#000"/>
<path d="M583.50 8.25H588.50L586.00 12.35Z" fill="#000"/>
<path d="M590.60 8.25H595.60L593.10 12.35Z" fill="#000"/>
<path d="M597.70 8.25H602.70L600.20 12.35Z" fill="#000"/>
<path d="M604.80 8.25H609.80L607.30 12.35Z" fill="#000"/>
<path d="M611.90 8.25H616.90L614.40 12.35Z" fill="#000"/>
<path d="M619.00 8.25H624.00L621.50 12.35Z" fill="#000"/>
<path d="M626.10 8.25H631.10L628.60 12.35Z" fill="#000"/>
<circle cx="353.30" cy="185.50" r="1.85" fill="#ff3d3d" stroke="#4a1010" stroke-width="0.7"/>
<circle cx="359.30" cy="178.60" r="1.85" fill="#ff3d3d" stroke="#4a1010" stroke-width="0.7"/>
<circle cx="365.50" cy="165.80" r="1.85" fill="#ff3d3d" stroke="#4a1010" stroke-width="0.7"/>
<circle cx="371.80" cy="155.40" r="1.85" fill="#ff3d3d" stroke="#4a1010" stroke-width="0.7"/>
<circle cx="378.10" cy="144.10" r="1.85" fill="#ff3d3d" stroke="#4a1010" stroke-width="0.7"/>
<circle cx="384.30" cy="133.60" r="1.85" fill="#ff3d3d" stroke="#4a1010" stroke-width="0.7"/>
<circle cx="390.50" cy="121.70" r="1.85" fill="#ff3d3d" stroke="#4a1010" stroke-width="0.7"/>
<circle cx="396.80" cy="110.00" r="1.85" fill="#ff3d3d" stroke="#4a1010" stroke-width="0.7"/>
<circle cx="403.10" cy="99.80" r="1.85" fill="#ff3d3d" stroke="#4a1010" stroke-width="0.7"/>
<circle cx="409.40" cy="88.40" r="1.85" fill="#ff3d3d" stroke="#4a1010" stroke-width="0.7"/>
<circle cx="415.50" cy="76.30" r="1.85" fill="#ff3d3d" stroke="#4a1010" stroke-width="0.7"/>
<circle cx="421.70" cy="66.00" r="1.85" fill="#ff3d3d" stroke="#4a1010" stroke-width="0.7"/>
<circle cx="428.20" cy="59.30" r="1.85" fill="#ff3d3d" stroke="#4a1010" stroke-width="0.7"/>
<circle cx="434.40" cy="51.20" r="1.85" fill="#ff3d3d" stroke="#4a1010" stroke-width="0.7"/>
<circle cx="440.60" cy="42.40" r="1.85" fill="#ff3d3d" stroke="#4a1010" stroke-width="0.7"/>
<circle cx="446.90" cy="37.20" r="1.85" fill="#ff3d3d" stroke="#4a1010" stroke-width="0.7"/>
<circle cx="453.00" cy="33.90" r="1.85" fill="#ff3d3d" stroke="#4a1010" stroke-width="0.7"/>
<circle cx="459.40" cy="30.70" r="1.85" fill="#ff3d3d" stroke="#4a1010" stroke-width="0.7"/>
<circle cx="465.50" cy="26.70" r="1.85" fill="#ff3d3d" stroke="#4a1010" stroke-width="0.7"/>
<circle cx="471.80" cy="24.50" r="1.85" fill="#ff3d3d" stroke="#4a1010" stroke-width="0.7"/>
<circle cx="478.20" cy="22.20" r="1.85" fill="#ff3d3d" stroke="#4a1010" stroke-width="0.7"/>
<circle cx="484.50" cy="20.10" r="1.85" fill="#ff3d3d" stroke="#4a1010" stroke-width="0.7"/>
<circle cx="490.80" cy="19.00" r="1.85" fill="#ff3d3d" stroke="#4a1010" stroke-width="0.7"/>
<circle cx="496.90" cy="17.80" r="1.85" fill="#ff3d3d" stroke="#4a1010" stroke-width="0.7"/>
<circle cx="503.20" cy="17.50" r="1.85" fill="#ff3d3d" stroke="#4a1010" stroke-width="0.7"/>
<circle cx="509.60" cy="15.30" r="1.85" fill="#ff3d3d" stroke="#4a1010" stroke-width="0.7"/>
<circle cx="515.80" cy="13.40" r="1.85" fill="#ff3d3d" stroke="#4a1010" stroke-width="0.7"/>
<circle cx="522.00" cy="12.80" r="1.85" fill="#ff3d3d" stroke="#4a1010" stroke-width="0.7"/>
<circle cx="528.30" cy="12.40" r="1.85" fill="#ff3d3d" stroke="#4a1010" stroke-width="0.7"/>
<circle cx="534.60" cy="11.70" r="1.85" fill="#ff3d3d" stroke="#4a1010" stroke-width="0.7"/>
<circle cx="540.70" cy="11.70" r="1.85" fill="#ff3d3d" stroke="#4a1010" stroke-width="0.7"/>
<circle cx="546.60" cy="10.50" r="1.85" fill="#ff3d3d" stroke="#4a1010" stroke-width="0.7"/>
<circle cx="552.80" cy="11.40" r="1.85" fill="#ff3d3d" stroke="#4a1010" stroke-width="0.7"/>
<circle cx="559.00" cy="10.90" r="1.85" fill="#ff3d3d" stroke="#4a1010" stroke-width="0.7"/>
<circle cx="565.30" cy="11.40" r="1.85" fill="#ff3d3d" stroke="#4a1010" stroke-width="0.7"/>
<circle cx="571.70" cy="11.40" r="1.85" fill="#ff3d3d" stroke="#4a1010" stroke-width="0.7"/>
<circle cx="578.00" cy="11.70" r="1.85" fill="#ff3d3d" stroke="#4a1010" stroke-width="0.7"/>
<circle cx="584.10" cy="11.70" r="1.85" fill="#ff3d3d" stroke="#4a1010" stroke-width="0.7"/>
<circle cx="590.40" cy="11.40" r="1.85" fill="#ff3d3d" stroke="#4a1010" stroke-width="0.7"/>
<circle cx="596.60" cy="12.80" r="1.85" fill="#ff3d3d" stroke="#4a1010" stroke-width="0.7"/>
<circle cx="602.80" cy="13.10" r="1.85" fill="#ff3d3d" stroke="#4a1010" stroke-width="0.7"/>
<circle cx="609.00" cy="14.60" r="1.85" fill="#ff3d3d" stroke="#4a1010" stroke-width="0.7"/>
<circle cx="615.50" cy="14.60" r="1.85" fill="#ff3d3d" stroke="#4a1010" stroke-width="0.7"/>
<circle cx="621.80" cy="15.00" r="1.85" fill="#ff3d3d" stroke="#4a1010" stroke-width="0.7"/>
<circle cx="627.90" cy="15.80" r="1.85" fill="#ff3d3d" stroke="#4a1010" stroke-width="0.7"/>
<circle cx="634.20" cy="15.60" r="1.85" fill="#ff3d3d" stroke="#4a1010" stroke-width="0.7"/>
<path d="M238.5 269.8H501.2V459.4H238.5Z" fill="none" stroke="#333" stroke-width="1.15"/>
<line x1="232.50" y1="459.30" x2="238.50" y2="459.30" stroke="#333" stroke-width="1"/>
<line x1="234.50" y1="450.25" x2="238.50" y2="450.25" stroke="#333" stroke-width="1"/>
<line x1="234.50" y1="444.96" x2="238.50" y2="444.96" stroke="#333" stroke-width="1"/>
<line x1="234.50" y1="441.21" x2="238.50" y2="441.21" stroke="#333" stroke-width="1"/>
<line x1="234.50" y1="438.30" x2="238.50" y2="438.30" stroke="#333" stroke-width="1"/>
<line x1="234.50" y1="435.92" x2="238.50" y2="435.92" stroke="#333" stroke-width="1"/>
<line x1="234.50" y1="433.90" x2="238.50" y2="433.90" stroke="#333" stroke-width="1"/>
<line x1="234.50" y1="432.16" x2="238.50" y2="432.16" stroke="#333" stroke-width="1"/>
<line x1="234.50" y1="430.63" x2="238.50" y2="430.63" stroke="#333" stroke-width="1"/>
<line x1="232.50" y1="429.25" x2="238.50" y2="429.25" stroke="#333" stroke-width="1"/>
<line x1="234.50" y1="420.20" x2="238.50" y2="420.20" stroke="#333" stroke-width="1"/>
<line x1="234.50" y1="414.91" x2="238.50" y2="414.91" stroke="#333" stroke-width="1"/>
<line x1="234.50" y1="411.16" x2="238.50" y2="411.16" stroke="#333" stroke-width="1"/>
<line x1="234.50" y1="408.25" x2="238.50" y2="408.25" stroke="#333" stroke-width="1"/>
<line x1="234.50" y1="405.87" x2="238.50" y2="405.87" stroke="#333" stroke-width="1"/>
<line x1="234.50" y1="403.85" x2="238.50" y2="403.85" stroke="#333" stroke-width="1"/>
<line x1="234.50" y1="402.11" x2="238.50" y2="402.11" stroke="#333" stroke-width="1"/>
<line x1="234.50" y1="400.58" x2="238.50" y2="400.58" stroke="#333" stroke-width="1"/>
<line x1="232.50" y1="399.20" x2="238.50" y2="399.20" stroke="#333" stroke-width="1"/>
<line x1="234.50" y1="390.15" x2="238.50" y2="390.15" stroke="#333" stroke-width="1"/>
<line x1="234.50" y1="384.86" x2="238.50" y2="384.86" stroke="#333" stroke-width="1"/>
<line x1="234.50" y1="381.11" x2="238.50" y2="381.11" stroke="#333" stroke-width="1"/>
<line x1="234.50" y1="378.20" x2="238.50" y2="378.20" stroke="#333" stroke-width="1"/>
<line x1="234.50" y1="375.82" x2="238.50" y2="375.82" stroke="#333" stroke-width="1"/>
<line x1="234.50" y1="373.80" x2="238.50" y2="373.80" stroke="#333" stroke-width="1"/>
<line x1="234.50" y1="372.06" x2="238.50" y2="372.06" stroke="#333" stroke-width="1"/>
<line x1="234.50" y1="370.53" x2="238.50" y2="370.53" stroke="#333" stroke-width="1"/>
<line x1="232.50" y1="369.15" x2="238.50" y2="369.15" stroke="#333" stroke-width="1"/>
<line x1="234.50" y1="360.10" x2="238.50" y2="360.10" stroke="#333" stroke-width="1"/>
<line x1="234.50" y1="354.81" x2="238.50" y2="354.81" stroke="#333" stroke-width="1"/>
<line x1="234.50" y1="351.06" x2="238.50" y2="351.06" stroke="#333" stroke-width="1"/>
<line x1="234.50" y1="348.15" x2="238.50" y2="348.15" stroke="#333" stroke-width="1"/>
<line x1="234.50" y1="345.77" x2="238.50" y2="345.77" stroke="#333" stroke-width="1"/>
<line x1="234.50" y1="343.75" x2="238.50" y2="343.75" stroke="#333" stroke-width="1"/>
<line x1="234.50" y1="342.01" x2="238.50" y2="342.01" stroke="#333" stroke-width="1"/>
<line x1="234.50" y1="340.48" x2="238.50" y2="340.48" stroke="#333" stroke-width="1"/>
<line x1="232.50" y1="339.10" x2="238.50" y2="339.10" stroke="#333" stroke-width="1"/>
<line x1="234.50" y1="330.05" x2="238.50" y2="330.05" stroke="#333" stroke-width="1"/>
<line x1="234.50" y1="324.76" x2="238.50" y2="324.76" stroke="#333" stroke-width="1"/>
<line x1="234.50" y1="321.01" x2="238.50" y2="321.01" stroke="#333" stroke-width="1"/>
<line x1="234.50" y1="318.10" x2="238.50" y2="318.10" stroke="#333" stroke-width="1"/>
<line x1="234.50" y1="315.72" x2="238.50" y2="315.72" stroke="#333" stroke-width="1"/>
<line x1="234.50" y1="313.70" x2="238.50" y2="313.70" stroke="#333" stroke-width="1"/>
<line x1="234.50" y1="311.96" x2="238.50" y2="311.96" stroke="#333" stroke-width="1"/>
<line x1="234.50" y1="310.43" x2="238.50" y2="310.43" stroke="#333" stroke-width="1"/>
<line x1="232.50" y1="309.05" x2="238.50" y2="309.05" stroke="#333" stroke-width="1"/>
<line x1="234.50" y1="300.00" x2="238.50" y2="300.00" stroke="#333" stroke-width="1"/>
<line x1="234.50" y1="294.71" x2="238.50" y2="294.71" stroke="#333" stroke-width="1"/>
<line x1="234.50" y1="290.96" x2="238.50" y2="290.96" stroke="#333" stroke-width="1"/>
<line x1="234.50" y1="288.05" x2="238.50" y2="288.05" stroke="#333" stroke-width="1"/>
<line x1="234.50" y1="285.67" x2="238.50" y2="285.67" stroke="#333" stroke-width="1"/>
<line x1="234.50" y1="283.65" x2="238.50" y2="283.65" stroke="#333" stroke-width="1"/>
<line x1="234.50" y1="281.91" x2="238.50" y2="281.91" stroke="#333" stroke-width="1"/>
<line x1="234.50" y1="280.38" x2="238.50" y2="280.38" stroke="#333" stroke-width="1"/>
<line x1="232.50" y1="279.00" x2="238.50" y2="279.00" stroke="#333" stroke-width="1"/>
<line x1="234.50" y1="269.95" x2="238.50" y2="269.95" stroke="#333" stroke-width="1"/>
<text x="207.30" y="463.30" font-family="'Liberation Sans', sans-serif" font-weight="bold" font-size="11" fill="#111" text-anchor="start" stroke="#111" stroke-width="0.3">10<tspan font-size="7.5" dy="-3.6">4</tspan></text>
<text x="207.30" y="433.25" font-family="'Liberation Sans', sans-serif" font-weight="bold" font-size="11" fill="#111" text-anchor="start" stroke="#111" stroke-width="0.3">10<tspan font-size="7.5" dy="-3.6">5</tspan></text>
<text x="207.30" y="403.20" font-family="'Liberation Sans', sans-serif" font-weight="bold" font-size="11" fill="#111" text-anchor="start" stroke="#111" stroke-width="0.3">10<tspan font-size="7.5" dy="-3.6">6</tspan></text>
<text x="207.30" y="373.15" font-family="'Liberation Sans', sans-serif" font-weight="bold" font-size="11" fill="#111" text-anchor="start" stroke="#111" stroke-width="0.3">10<tspan font-size="7.5" dy="-3.6">7</tspan></text>
<text x="207.30" y="343.10" font-family="'Liberation Sans', sans-serif" font-weight="bold" font-size="11" fill="#111" text-anchor="start" stroke="#111" stroke-width="0.3">10<tspan font-size="7.5" dy="-3.6">8</tspan></text>
<text x="207.30" y="313.05" font-family="'Liberation Sans', sans-serif" font-weight="bold" font-size="11" fill="#111" text-anchor="start" stroke="#111" stroke-width="0.3">10<tspan font-size="7.5" dy="-3.6">9</tspan></text>
<text x="207.30" y="283.00" font-family="'Liberation Sans', sans-serif" font-weight="bold" font-size="11" fill="#111" text-anchor="start" stroke="#111" stroke-width="0.3">10<tspan font-size="7.5" dy="-3.6">10</tspan></text>
<rect x="243.50" y="449.01" width="18.20" height="10.49" fill="#000000" stroke="#3a3030" stroke-width="0.8"/>
<rect x="263.30" y="442.58" width="18.00" height="16.92" fill="#00ff00" stroke="#3a3030" stroke-width="0.8"/>
<rect x="283.20" y="293.08" width="17.90" height="166.42" fill="#0000ff" stroke="#3a3030" stroke-width="0.8"/>
<rect x="302.80" y="277.40" width="17.90" height="182.10" fill="#ff4444" stroke="#3a3030" stroke-width="0.8"/>
<rect x="331.20" y="442.58" width="17.80" height="16.92" fill="#000000" stroke="#3a3030" stroke-width="0.8"/>
<rect x="351.00" y="433.54" width="17.70" height="25.96" fill="#00ff00" stroke="#3a3030" stroke-width="0.8"/>
<rect x="370.80" y="337.86" width="17.80" height="121.64" fill="#0000ff" stroke="#3a3030" stroke-width="0.8"/>
<rect x="390.50" y="285.24" width="17.70" height="174.26" fill="#ff4444" stroke="#3a3030" stroke-width="0.8"/>
<rect x="458.20" y="349.81" width="18.00" height="109.69" fill="#0000ff" stroke="#3a3030" stroke-width="0.8"/>
<rect x="478.10" y="310.43" width="17.70" height="149.07" fill="#ff4444" stroke="#3a3030" stroke-width="0.8"/>
<line x1="238.50" y1="459.40" x2="501.20" y2="459.40" stroke="#333" stroke-width="1"/>
<line x1="232.50" y1="459.40" x2="238.50" y2="459.40" stroke="#333" stroke-width="1"/>
<text transform="translate(257.60,446.60) rotate(-90)" font-family="'Liberation Sans', sans-serif" font-weight="bold" font-size="10.6" fill="#000" stroke="#000" stroke-width="0.3">bare, 22 k&#937; cm<tspan dx="2.3" dy="-6.2">2</tspan></text>
<text transform="translate(277.20,440.40) rotate(-90)" font-family="'Liberation Sans', sans-serif" font-weight="bold" font-size="10.6" fill="#000" stroke="#000" stroke-width="0.3">Zr-CrCC, 36 k&#937; cm<tspan dx="2.3" dy="-6.2">2</tspan></text>
<text transform="translate(297.20,447.50) rotate(-90)" font-family="'Liberation Sans', sans-serif" font-weight="bold" font-size="10.6" fill="#fff" stroke="#fff" stroke-width="0.3">PEHA-SS, 3.4 G&#937; cm<tspan dx="2.3" dy="-6.2">2</tspan></text>
<text transform="translate(317.00,447.80) rotate(-90)" font-family="'Liberation Sans', sans-serif" font-weight="bold" font-size="10.6" fill="#000" stroke="#000" stroke-width="0.3">Zr-CrCC+PEHA-SS, 11.3 G&#937; cm<tspan dx="2.3" dy="-6.2">2</tspan></text>
<text transform="translate(345.00,440.00) rotate(-90)" font-family="'Liberation Sans', sans-serif" font-weight="bold" font-size="10.6" fill="#000" stroke="#000" stroke-width="0.3">36 k&#937; cm<tspan dx="2.3" dy="-6.2">2</tspan></text>
<text transform="translate(364.60,432.00) rotate(-90)" font-family="'Liberation Sans', sans-serif" font-weight="bold" font-size="10.6" fill="#000" stroke="#000" stroke-width="0.3">72 k&#937; cm<tspan dx="2.3" dy="-6.2">2</tspan></text>
<text transform="translate(384.60,432.60) rotate(-90)" font-family="'Liberation Sans', sans-serif" font-weight="bold" font-size="10.6" fill="#fff" stroke="#fff" stroke-width="0.3">0.1 G&#937; cm<tspan dx="2.3" dy="-6.2">2</tspan></text>
<text transform="translate(404.30,432.60) rotate(-90)" font-family="'Liberation Sans', sans-serif" font-weight="bold" font-size="10.6" fill="#fff" stroke="#fff" stroke-width="0.3">6.2 G&#937; cm<tspan dx="2.3" dy="-6.2">2</tspan></text>
<text transform="translate(472.20,431.80) rotate(-90)" font-family="'Liberation Sans', sans-serif" font-weight="bold" font-size="10.6" fill="#fff" stroke="#fff" stroke-width="0.3">44 M&#937; cm<tspan dx="2.3" dy="-6.2">2</tspan></text>
<text transform="translate(492.00,431.80) rotate(-90)" font-family="'Liberation Sans', sans-serif" font-weight="bold" font-size="10.6" fill="#fff" stroke="#fff" stroke-width="0.3">0.9 G&#937; cm<tspan dx="2.3" dy="-6.2">2</tspan></text>
<text x="282.2" y="475.4" font-family="'Liberation Sans', sans-serif" font-weight="bold" font-size="11.2" fill="#111" text-anchor="middle" stroke="#111" stroke-width="0.3">1 hour</text>
<text x="370.0" y="475.4" font-family="'Liberation Sans', sans-serif" font-weight="bold" font-size="11.2" fill="#111" text-anchor="middle" stroke="#111" stroke-width="0.3">1 week</text>
<text x="457.7" y="475.4" font-family="'Liberation Sans', sans-serif" font-weight="bold" font-size="11.2" fill="#111" text-anchor="middle" stroke="#111" stroke-width="0.3">4 months</text>
<text x="369" y="488.2" font-family="'Liberation Sans', sans-serif" font-weight="bold" font-size="12" fill="#111" text-anchor="middle" stroke="#111" stroke-width="0.3">Immersion time</text>
<text x="361.8" y="513.3" font-family="'Liberation Sans', sans-serif" font-weight="bold" font-size="17.2" fill="#111" text-anchor="middle" stroke="#111" stroke-width="0.3">(c)</text>
<text transform="translate(203.2,383.6) rotate(-90) scale(1.075,1)" font-family="'Liberation Sans', sans-serif" font-weight="bold" font-size="11.2" fill="#111" text-anchor="middle" stroke="#111" stroke-width="0.3">Impedance at 0.01 Hz</text>
<text x="188.2" y="242.1" font-family="'Liberation Sans', sans-serif" font-weight="bold" font-size="12.3" fill="#111" text-anchor="middle" stroke="#111" stroke-width="0.3">Frequency [Hz]</text>
<text x="181.6" y="258.8" font-family="'Liberation Sans', sans-serif" font-weight="bold" font-size="15.3" fill="#111" text-anchor="middle" stroke="#111" stroke-width="0.3">(a)</text>
<text transform="translate(506.6,237.6) scale(1.075,1)" font-family="'Liberation Sans', sans-serif" font-weight="bold" font-size="12.3" fill="#111" text-anchor="middle" stroke="#111" stroke-width="0.3">Frequency [Hz]</text>
<text transform="translate(497.6,254.2) scale(1.1,1)" font-family="'Liberation Sans', sans-serif" font-weight="bold" font-size="15.3" fill="#111" text-anchor="middle" stroke="#111" stroke-width="0.3">(b)</text>
<text transform="translate(12.3,100.2) rotate(-90)" font-family="'Liberation Sans', sans-serif" font-weight="bold" font-size="12.2" fill="#111" text-anchor="middle" stroke="#111" stroke-width="0.3">Impedance [&#937; cm<tspan font-size="8.5" dy="-4">2</tspan><tspan dy="4">]</tspan></text>
<text transform="translate(680.9,111) rotate(-90) scale(1.03,1)" font-family="'Liberation Sans', sans-serif" font-weight="bold" font-size="12" fill="#111" text-anchor="middle" stroke="#111" stroke-width="0.3">- phase angle [&#176;]</text>
<text x="82" y="16.2" font-family="'Liberation Sans', sans-serif" font-weight="bold" font-size="11.1" fill="#111" stroke="#111" stroke-width="0.3">1 hour</text>
<text x="55.5" y="37.6" font-family="'Liberation Sans', sans-serif" font-weight="bold" font-size="10.6" fill="#4848ff" stroke="#4848ff" stroke-width="0.3">1 week</text>
<text x="59.8" y="63.6" font-family="'Liberation Sans', sans-serif" font-weight="bold" font-size="10.8" fill="#ff3040" stroke="#ff3040" stroke-width="0.3">4 months</text>
<text transform="translate(389.5,45) rotate(-42.5)" font-family="'Liberation Sans', sans-serif" font-weight="bold" font-size="11" fill="#111" stroke="#111" stroke-width="0.3">1 hour</text>
<text transform="translate(408.5,66) rotate(-42.5)" font-family="'Liberation Sans', sans-serif" font-weight="bold" font-size="11" fill="#4848ff" stroke="#4848ff" stroke-width="0.3">1 week</text>
<text transform="translate(430,80.5) rotate(-42.5)" font-family="'Liberation Sans', sans-serif" font-weight="bold" font-size="11" fill="#ff3040" stroke="#ff3040" stroke-width="0.3">4 months</text>
</svg></body></html>
